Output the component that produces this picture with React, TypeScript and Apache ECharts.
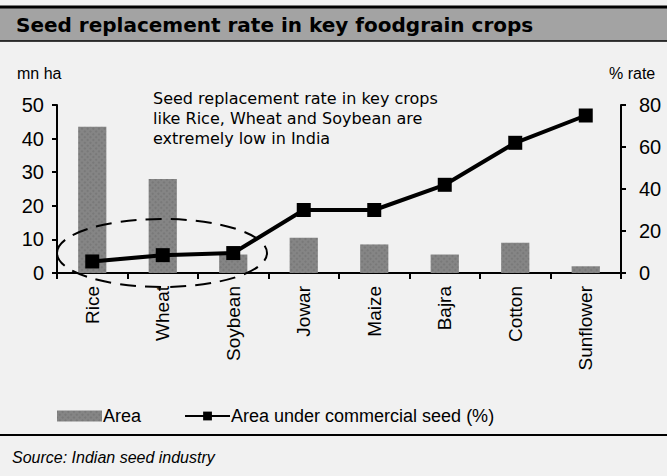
import React, { useEffect, useRef } from "react";
import * as echarts from "echarts";

const categories = ["Rice", "Wheat", "Soybean", "Jowar", "Maize", "Bajra", "Cotton", "Sunflower"];
const areaMnHa = [43.5, 28, 5.5, 10.5, 8.5, 5.5, 9, 2];
const commercialSeedPct = [5.5, 8.5, 9.5, 30, 30, 42, 62, 75];
const leftTicks = { min: 0, max: 50, interval: 10 };
const rightTicks = { min: 0, max: 80, interval: 20 };

const FONT = "Liberation Sans, Arial, sans-serif";

export default function App() {
  const ref = useRef<HTMLDivElement>(null);
  useEffect(() => {
    if (!ref.current) return;
    const chart = echarts.init(ref.current, undefined, { renderer: "svg" });
    chart.setOption({
      animation: false,
      backgroundColor: "#f1f1f1",
      textStyle: { fontFamily: FONT, color: "#000" },
      grid: { left: 57, right: 46, top: 105, bottom: 203, containLabel: false },
      legend: {
        left: 52,
        top: 402,
        itemWidth: 45,
        itemHeight: 11,
        itemGap: 43,
        textStyle: { fontFamily: FONT, fontSize: 18, color: "#000", padding: [0, 0, 0, -4] },
        data: [
          { name: "Area", icon: "rect" },
          { name: "Area under commercial seed (%)" },
        ],
      },
      xAxis: {
        type: "category",
        data: categories,
        axisLine: { lineStyle: { color: "#000", width: 2 } },
        axisTick: { show: true, length: 6, lineStyle: { color: "#000", width: 2 } },
        axisLabel: { rotate: 90, fontSize: 19, color: "#000", margin: 13, fontFamily: FONT },
      },
      yAxis: [
        {
          type: "value",
          ...leftTicks,
          axisLine: { show: true, lineStyle: { color: "#000", width: 2 } },
          axisTick: { show: true, length: 5, lineStyle: { color: "#000", width: 2 } },
          splitLine: { show: false },
          axisLabel: { fontSize: 20, color: "#000", margin: 13, fontFamily: FONT },
        },
        {
          type: "value",
          ...rightTicks,
          position: "right",
          axisLine: { show: true, lineStyle: { color: "#000", width: 2 } },
          axisTick: { show: true, length: 5, lineStyle: { color: "#000", width: 2 } },
          splitLine: { show: false },
          axisLabel: { fontSize: 20, color: "#000", margin: 18, fontFamily: FONT },
        },
      ],
      series: [
        {
          name: "Area",
          type: "bar",
          data: areaMnHa,
          barWidth: "40%",
          yAxisIndex: 0,
          itemStyle: {
            color: "#858585",
            decal: {
              symbol: "rect",
              symbolSize: 0.6,
              dashArrayX: [2, 2],
              dashArrayY: [2, 2],
              rotation: Math.PI / 4,
              color: "rgba(50,50,50,0.5)",
            },
          },
        },
        {
          name: "Area under commercial seed (%)",
          type: "line",
          yAxisIndex: 1,
          data: commercialSeedPct,
          symbol: "rect",
          symbolSize: 14,
          lineStyle: { color: "#000", width: 4 },
          itemStyle: { color: "#000" },
          z: 5,
        },
      ],
      graphic: [
        { type: "rect", shape: { x: 0, y: 7, width: 667, height: 34 }, style: { fill: "#a3a3a3" }, silent: true },
        { type: "line", shape: { x1: 0, y1: 7, x2: 667, y2: 7 }, style: { stroke: "#000", lineWidth: 3 } },
        { type: "line", shape: { x1: 0, y1: 41, x2: 667, y2: 41 }, style: { stroke: "#000", lineWidth: 1.5 } },
        {
          type: "text",
          x: 16,
          y: 25,
          style: {
            text: "Seed replacement rate in key foodgrain crops",
            font: "bold 20px 'DejaVu Sans', sans-serif",
            fill: "#000",
            textVerticalAlign: "middle",
          },
        },
        { type: "text", x: 17, y: 73, style: { text: "mn ha", font: `16px ${FONT}`, fill: "#000", textVerticalAlign: "middle" } },
        { type: "text", x: 609, y: 73, style: { text: "% rate", font: `16px ${FONT}`, fill: "#000", textVerticalAlign: "middle" } },
        {
          type: "text",
          x: 153,
          y: 88,
          style: {
            text: "Seed replacement rate in key crops\nlike Rice, Wheat and Soybean are\nextremely low in India",
            font: "16px 'DejaVu Sans', sans-serif",
            lineHeight: 20,
            fill: "#000",
          },
        },
        {
          type: "ellipse",
          shape: { cx: 162, cy: 253, rx: 105, ry: 34 },
          style: { fill: "none", stroke: "#000", lineWidth: 2, lineDash: [16, 9] },
          z: 10,
        },
        { type: "line", shape: { x1: 0, y1: 435, x2: 667, y2: 435 }, style: { stroke: "#000", lineWidth: 2 } },
        {
          type: "text",
          x: 12,
          y: 457,
          style: { text: "Source: Indian seed industry", font: `italic 16px ${FONT}`, fill: "#000", textVerticalAlign: "middle" },
        },
      ],
    });
    return () => chart.dispose();
  }, []);
  return <div ref={ref} style={{ position: "fixed", left: 0, top: 0, width: 667, height: 476 }} />;
}
